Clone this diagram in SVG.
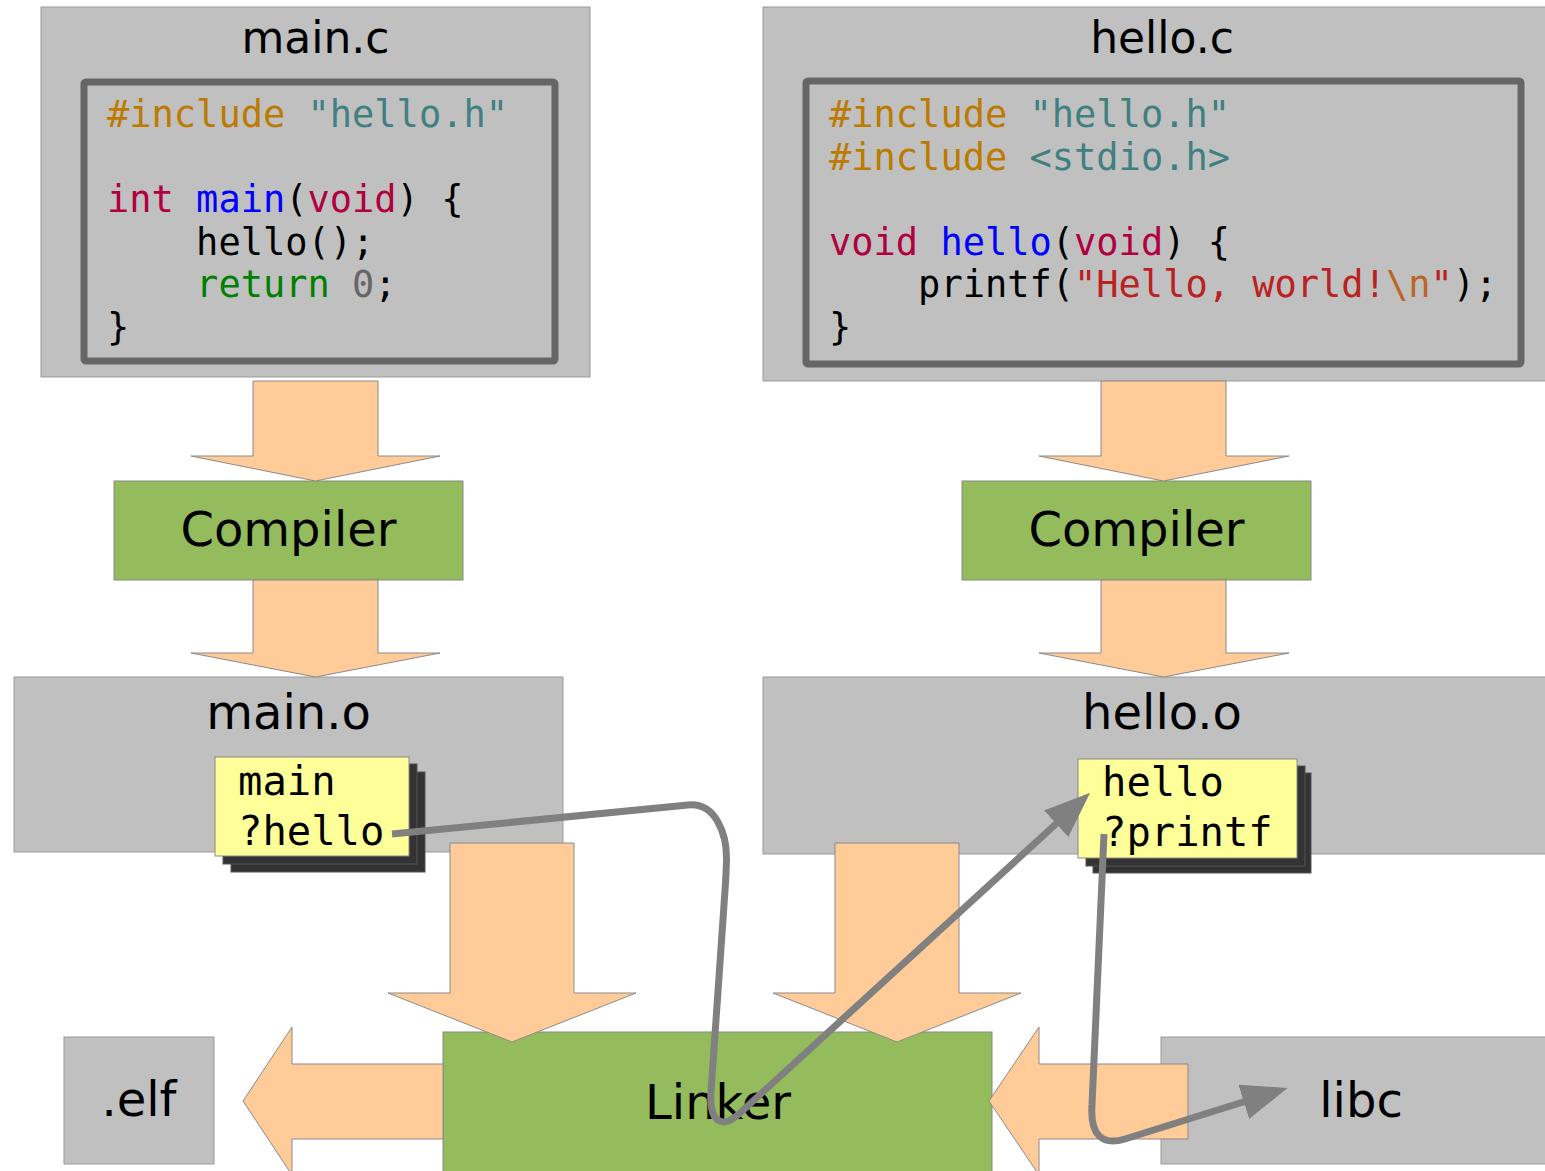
<svg xmlns="http://www.w3.org/2000/svg" width="1545" height="1171" viewBox="0 0 1545 1171">
<defs>
<style>
.box{fill:#c0c0c0;stroke:#999;stroke-width:1}
.green{fill:#94bc5d;stroke:#888;stroke-width:1}
.arrow{fill:#ffcc99;stroke:#8a8a8a;stroke-width:1}
.code{fill:none;stroke:#666;stroke-width:7}
.sym{fill:#ffff99;stroke:#888;stroke-width:1}
.shadow{fill:#333;stroke:#555;stroke-width:1}
.title{font-family:"DejaVu Sans",sans-serif;font-size:44px;fill:#000;text-anchor:middle}
.big{font-family:"DejaVu Sans",sans-serif;font-size:48px;fill:#000;text-anchor:middle}
.mono{font-family:"DejaVu Sans Mono",monospace;font-size:37px;fill:#000}
.symt{font-family:"DejaVu Sans Mono",monospace;font-size:40.5px;fill:#000}
.pp{fill:#bc7a00}.fl{fill:#408080}.kt{fill:#b00040}.fn{fill:#0000ff}.kw{fill:#008000}.num{fill:#666}.str{fill:#ba2121}.esc{fill:#bb6622}
.conn{fill:none;stroke:#808080;stroke-width:7;stroke-linejoin:round}
</style>
<marker id="head" markerUnits="userSpaceOnUse" markerWidth="50" markerHeight="40" refX="16" refY="18" orient="auto" viewBox="0 0 50 40">
<path d="M0,0 L46,18 L0,36 Z" fill="#808080"/>
</marker>
</defs>

<g id="main_c">
<rect class="box" x="41" y="7" width="549" height="370"/>
<text class="title" x="315.5" y="53">main.c</text>
<rect class="code" x="84" y="82" width="471" height="279" rx="2"/>
<text class="mono" xml:space="preserve"><tspan x="107" y="127"><tspan class="pp">#include</tspan> <tspan class="fl">"hello.h"</tspan></tspan><tspan x="107" y="212"><tspan class="kt">int</tspan> <tspan class="fn">main</tspan>(<tspan class="kt">void</tspan>) {</tspan><tspan x="107" y="254.5">    hello();</tspan><tspan x="107" y="297">    <tspan class="kw">return</tspan> <tspan class="num">0</tspan>;</tspan><tspan x="107" y="339.5">}</tspan></text>
</g>

<g id="hello_c">
<rect class="box" x="763" y="7" width="798" height="374"/>
<text class="title" x="1162" y="53">hello.c</text>
<rect class="code" x="806" y="81" width="715" height="283" rx="2"/>
<text class="mono" xml:space="preserve"><tspan x="829" y="127"><tspan class="pp">#include</tspan> <tspan class="fl">"hello.h"</tspan></tspan><tspan x="829" y="169.5"><tspan class="pp">#include</tspan> <tspan class="fl">&lt;stdio.h&gt;</tspan></tspan><tspan x="829" y="255"><tspan class="kt">void</tspan> <tspan class="fn">hello</tspan>(<tspan class="kt">void</tspan>) {</tspan><tspan x="829" y="297">    printf(<tspan class="str">"Hello, world!</tspan><tspan class="esc">\n</tspan><tspan class="str">"</tspan>);</tspan><tspan x="829" y="339.5">}</tspan></text>
</g>

<g id="compiler1">
<rect class="green" x="114" y="481" width="349" height="99"/>
<text class="big" x="288.5" y="546">Compiler</text>
</g>

<g id="compiler2">
<rect class="green" x="962" y="481" width="349" height="99"/>
<text class="big" x="1136.5" y="546">Compiler</text>
</g>

<g id="main_o">
<rect class="box" x="14" y="677" width="549" height="175"/>
<text class="big" x="288.5" y="729">main.o</text>
<rect class="shadow" x="231" y="772" width="194" height="100"/>
<rect class="shadow" x="223" y="764" width="194" height="100"/>
<rect class="sym" x="215" y="757" width="194" height="99"/>
<text class="symt" xml:space="preserve"><tspan x="238" y="795">main</tspan><tspan x="238" y="845">?hello</tspan></text>
</g>

<g id="hello_o">
<rect class="box" x="763" y="677" width="798" height="177"/>
<text class="big" x="1162" y="729">hello.o</text>
<rect class="shadow" x="1093" y="773" width="218" height="100"/>
<rect class="shadow" x="1086" y="766" width="219" height="100"/>
<rect class="sym" x="1078" y="759" width="219" height="99"/>
<text class="symt" xml:space="preserve"><tspan x="1102" y="796">hello</tspan><tspan x="1102" y="846">?printf</tspan></text>
</g>

<g id="linker">
<rect class="green" x="443" y="1032" width="549" height="150"/>
<text class="big" x="718" y="1119">Linker</text>
</g>

<g id="elf">
<rect class="box" x="64" y="1037" width="150" height="127"/>
<text class="big" x="139" y="1116">.elf</text>
</g>

<g id="libc">
<rect class="box" x="1161" y="1037" width="400" height="127"/>
<text class="big" x="1361" y="1117">libc</text>
</g>

<g id="flow_arrows">
<polygon class="arrow" points="253,381 378,381 378,456 440,456 315.5,481 191,456 253,456"/>
<polygon class="arrow" points="253,580 378,580 378,653 440,653 315.5,677 191,653 253,653"/>
<polygon class="arrow" points="1101,381 1226,381 1226,456 1289,456 1163.5,481 1039,456 1101,456"/>
<polygon class="arrow" points="1101,580 1226,580 1226,653 1289,653 1163.5,677 1039,653 1101,653"/>
<polygon class="arrow" points="450,843 574,843 574,993 636,993 512,1042 388,993 450,993"/>
<polygon class="arrow" points="835,843 959,843 959,993 1021,993 897,1042 773,993 835,993"/>
<polygon class="arrow" points="443,1064 292,1064 292,1027 243,1101 292,1175 292,1139 443,1139"/>
<polygon class="arrow" points="1188,1064 1039,1064 1039,1027 989,1101 1039,1175 1039,1139 1188,1139"/>
</g>

<g id="connectors">
<path class="conn" d="M392,834 L688,805 C716,802 727,835 726.5,860 C726,880 725,890 724,905 L711,1092 C709,1122 722,1130 740,1113 L1068,813" marker-end="url(#head)"/>
<path class="conn" d="M1104,834 L1092,1105 C1090,1135 1102,1146 1125,1139 L1259,1097" marker-end="url(#head)"/>
</g>
</svg>
